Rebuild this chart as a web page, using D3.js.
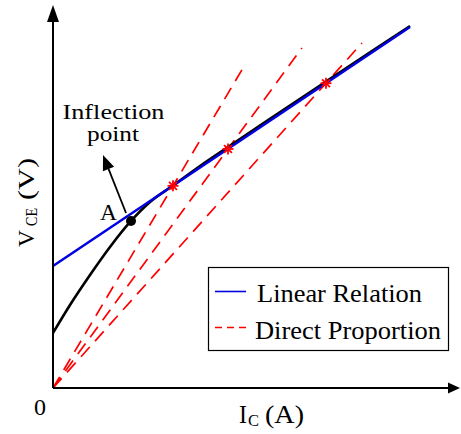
<!DOCTYPE html>
<html>
<head>
<meta charset="utf-8">
<script src="https://cdn.jsdelivr.net/npm/d3@7"></script>
<style>
  html, body { margin: 0; padding: 0; background: #fff; }
  svg { display: block; }
  text { font-family: "Liberation Serif", "Times New Roman", serif; fill: #000; }
</style>
</head>
<body>
<svg id="chart" width="461" height="434"></svg>
<script>
// ---- data (arbitrary units, axes have no ticks) ----
const curveX = [0, 0.425, 0.925, 1.425, 1.95, 2.425, 3.0, 3.675, 4.375, 5.425, 6.825, 7.925, 8.925];
const curveY = [1.447, 2.184, 2.974, 3.711, 4.395, 4.895, 5.329, 5.842, 6.342, 7.084, 8.066, 8.834, 9.526];
const linearX = [0, 8.925];
const linearY = [3.21, 9.5];
const starX = [3.0, 4.375, 6.825];
const starY = [5.32, 6.29, 8.02];
const propEndX = [4.75, 6.225, 7.725];
const propEndY = [8.42, 8.95, 9.08];
const pointA = [1.95, 4.395];
const legendLabels = ["Linear Relation", "Direct Proportion"];
const originLabel = "0";
const FONT = "Liberation Serif";

const svg = d3.select("#chart");
const x = d3.scaleLinear().domain([0, 10]).range([53, 453]);
const y = d3.scaleLinear().domain([0, 10]).range([388, 8]);

const line = d3.line().x(d => x(d[0])).y(d => y(d[1]));

// direct proportion dashed lines
starX.forEach((sx, i) => {
  svg.append("path")
    .attr("d", line([[0, 0], [propEndX[i], propEndY[i]]]))
    .attr("fill", "none").attr("stroke", "#ff0000")
    .attr("stroke-width", 1.7).attr("stroke-dasharray", "13,8");
});

// black curve
svg.append("path")
  .attr("d", d3.line().x(d => x(d[0])).y(d => y(d[1])).curve(d3.curveMonotoneX)(curveX.map((v, i) => [v, curveY[i]])))
  .attr("fill", "none").attr("stroke", "#000").attr("stroke-width", 2.6);

// linear relation
svg.append("path")
  .attr("d", line(linearX.map((v, i) => [v, linearY[i]])))
  .attr("fill", "none").attr("stroke", "#0000e0").attr("stroke-width", 2.5);

// stars
starX.forEach((sx, i) => {
  const cx = x(sx), cy = y(starY[i]), r = 5.5, d = r * 0.72;
  const g = svg.append("g").attr("stroke", "#ff0000").attr("stroke-width", 1.8);
  g.append("line").attr("x1", cx - r).attr("x2", cx + r).attr("y1", cy).attr("y2", cy);
  g.append("line").attr("x1", cx).attr("x2", cx).attr("y1", cy - r).attr("y2", cy + r);
  g.append("line").attr("x1", cx - d).attr("x2", cx + d).attr("y1", cy - d).attr("y2", cy + d);
  g.append("line").attr("x1", cx - d).attr("x2", cx + d).attr("y1", cy + d).attr("y2", cy - d);
});

// point A
const ax = x(pointA[0]), ay = y(pointA[1]);
svg.append("circle").attr("cx", ax).attr("cy", ay).attr("r", 5).attr("fill", "#000");

// annotation arrow
const a0 = [ax - 5, ay - 8], a1 = [ax - 28, ay - 66];
{
  const dx = a1[0] - a0[0], dy = a1[1] - a0[1], L = Math.hypot(dx, dy);
  const ux = dx / L, uy = dy / L, hl = 15, hw = 6;
  const bx = a1[0] - ux * hl, by = a1[1] - uy * hl;
  svg.append("line").attr("x1", a0[0]).attr("y1", a0[1]).attr("x2", bx).attr("y2", by)
    .attr("stroke", "#000").attr("stroke-width", 1.8);
  svg.append("path")
    .attr("d", `M${a1[0]},${a1[1]}L${bx - uy * hw},${by + ux * hw}L${bx + uy * hw},${by - ux * hw}Z`)
    .attr("fill", "#000");
}

// axes
svg.append("line").attr("x1", x(0)).attr("y1", y(0)).attr("x2", 449).attr("y2", y(0))
  .attr("stroke", "#000").attr("stroke-width", 2);
svg.append("path").attr("d", `M460,${y(0)}L448,${y(0) - 5.5}L448,${y(0) + 5.5}Z`).attr("fill", "#000");
svg.append("line").attr("x1", x(0)).attr("y1", y(0)).attr("x2", x(0)).attr("y2", 20)
  .attr("stroke", "#000").attr("stroke-width", 2);
svg.append("path").attr("d", `M${x(0)},5L${x(0) - 6},22L${x(0) + 6},22Z`).attr("fill", "#000");

function txt(parent, xp, yp, size, str, len, anchor) {
  const t = parent.append("text").attr("x", xp).attr("y", yp)
    .attr("font-family", FONT).attr("font-size", size).text(str);
  if (anchor) t.attr("text-anchor", anchor);
  if (len) t.attr("textLength", len).attr("lengthAdjust", "spacingAndGlyphs");
  return t;
}

// annotation texts
txt(svg, 113.5, 118.5, 22, "Inflection", 102, "middle");
txt(svg, 113, 141, 22, "point", 52, "middle");
txt(svg, 100, 220, 23, "A", 17);
txt(svg, 34, 415, 24, originLabel, 12);

// x label: I_C (A)
txt(svg, 239, 423, 25, "I", 8);
txt(svg, 248, 426, 17, "C", 11);
txt(svg, 265, 423, 25, "(A)", 39);

// y label: V_CE (V), rotated
const yg = svg.append("g").attr("transform", "translate(34,247) rotate(-90)");
txt(yg, 0, 0, 24, "V", 17);
txt(yg, 21, 3, 17, "CE", 18);
txt(yg, 47, 0, 24, "(V)", 42);

// legend
svg.append("rect").attr("x", 208.5).attr("y", 267.5).attr("width", 240).attr("height", 83)
  .attr("fill", "#fff").attr("stroke", "#000").attr("stroke-width", 1.2);
svg.append("line").attr("x1", 215).attr("x2", 246).attr("y1", 291.5).attr("y2", 291.5)
  .attr("stroke", "#0000e0").attr("stroke-width", 1.6);
svg.append("line").attr("x1", 215).attr("x2", 246).attr("y1", 327.5).attr("y2", 327.5)
  .attr("stroke", "#ff0000").attr("stroke-width", 1.6).attr("stroke-dasharray", "7,5");
txt(svg, 257, 302, 24.5, legendLabels[0], 165);
txt(svg, 255, 339, 24.5, legendLabels[1], 186);
</script>
</body>
</html>
